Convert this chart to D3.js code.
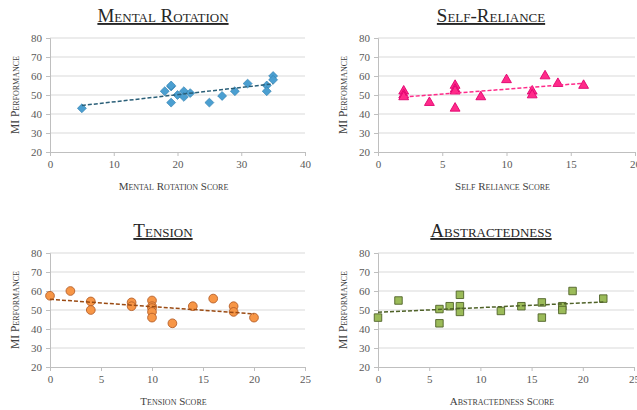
<!DOCTYPE html>
<html><head><meta charset="utf-8">
<script src="https://cdn.jsdelivr.net/npm/d3@7"></script>
<style>
html,body{margin:0;padding:0;background:#fff;}
svg text{font-family:"Liberation Serif","Times New Roman",serif !important;}
</style></head>
<body>
<svg id="chart" width="637" height="410"></svg>
<script>
// ---- data ----
const mentalX = [5,18,19,19,19,20,21,21,22,25,27,29,31,34,34,35,35];
const mentalY = [43,52,54.5,55,46,50,52,49,51,46,49.5,52,56,55,52,60,58];
const selfX = [2,2,2,4,6,6,6,6,8,10,12,12,13,14,16];
const selfY = [52,50,49,46,55,53,52,43,49,58,52,50,60,56,55];
const tensionX = [0,2,4,4,8,8,10,10,10,10,10,12,14,16,18,18,20];
const tensionY = [57.5,60,54.5,50,54,52,55,52,51,49,46,43,52,56,52,49,46];
const abstrX = [0,2,6,6,7,8,8,8,12,14,16,16,18,18,19,22];
const abstrY = [46,55,50.5,43,52,58,52,49,49.5,52,54,46,52,50,60,56];
const yTicks = [20,30,40,50,60,70,80];
const titles = ["Mental Rotation","Self-Reliance","Tension","Abstractedness"];
const xTitles = ["Mental Rotation Score","Self Reliance Score","Tension Score","Abstractedness Score"];
const yTitle = "MI Performance";

const panels = [
  {x:mentalX,y:mentalY,xmax:40,step:10,title:titles[0],xt:xTitles[0],left:50,top:38,w:255,shape:"diamond",fill:"#4b9fd1",stroke:"#2f7fae",trend:"#2a5f78"},
  {x:selfX,y:selfY,xmax:20,step:5,title:titles[1],xt:xTitles[1],left:378,top:38,w:257,shape:"triangle",fill:"#ff2b8a",stroke:"#e0006e",trend:"#ff2b8a"},
  {x:tensionX,y:tensionY,xmax:25,step:5,title:titles[2],xt:xTitles[2],left:50,top:253,w:255,shape:"circle",fill:"#f79646",stroke:"#b5602a",trend:"#9a4a12"},
  {x:abstrX,y:abstrY,xmax:25,step:5,title:titles[3],xt:xTitles[3],left:378,top:253,w:256,shape:"square",fill:"#9bbb59",stroke:"#4f6228",trend:"#4f6228"}
];

const svg = d3.select("#chart");
const H = 114;
const FF = "'Liberation Serif', 'Times New Roman', serif";

panels.forEach((p,i)=>{
  const g = svg.append("g").attr("transform",`translate(${p.left},${p.top})`);
  const xs = d3.scaleLinear().domain([0,p.xmax]).range([0,p.w]);
  const ys = d3.scaleLinear().domain([20,80]).range([H,0]);

  // gridlines
  g.selectAll(".grid").data(yTicks.filter(t=>t>20)).join("line")
    .attr("x1",0).attr("x2",p.w).attr("y1",d=>ys(d)).attr("y2",d=>ys(d))
    .attr("stroke","#d9d9d9").attr("stroke-width",1);

  // y axis
  const ya = g.append("g").call(d3.axisLeft(ys).tickValues(yTicks).tickSize(4).tickPadding(4))
    .attr("font-family",FF).attr("font-size",11);
  ya.select(".domain").attr("stroke","#bfbfbf");
  ya.selectAll(".tick line").attr("stroke","#bfbfbf");
  ya.selectAll(".tick text").attr("fill","#595959");

  // x axis
  const xticks = d3.range(0,p.xmax+0.001,p.step);
  const xa = g.append("g").attr("transform",`translate(0,${H})`)
    .call(d3.axisBottom(xs).tickValues(xticks).tickSize(4).tickPadding(4).tickSizeOuter(0))
    .attr("font-family",FF).attr("font-size",11);
  xa.select(".domain").attr("stroke","#bfbfbf");
  xa.selectAll(".tick line").attr("stroke","#bfbfbf");
  xa.selectAll(".tick text").attr("fill","#595959");

  // trendline (least squares)
  const n = p.x.length;
  const mx = d3.mean(p.x), my = d3.mean(p.y);
  let sxy=0,sxx=0;
  for(let k=0;k<n;k++){sxy+=(p.x[k]-mx)*(p.y[k]-my);sxx+=(p.x[k]-mx)**2;}
  const b = sxy/sxx, a = my-b*mx;
  const x0 = d3.min(p.x), x1 = d3.max(p.x);

  // markers
  const data = p.x.map((v,k)=>({x:v,y:p.y[k]}));
  const symType = {diamond:d3.symbolSquare,triangle:d3.symbolTriangle,circle:d3.symbolCircle,square:d3.symbolSquare}[p.shape];
  const size = {diamond:40,triangle:42,circle:60,square:56}[p.shape];
  const sym = d3.symbol().type(symType).size(size);
  g.selectAll(".pt").data(data).join("path")
    .attr("d",sym)
    .attr("transform",d=>`translate(${xs(d.x)},${ys(d.y)})`+(p.shape==="diamond"?" rotate(45)":""))
    .attr("fill",p.fill).attr("stroke",p.stroke).attr("stroke-width",p.shape==="diamond"?0.6:0.9);

  g.append("line")
    .attr("x1",xs(x0)).attr("y1",ys(a+b*x0)).attr("x2",xs(x1)).attr("y2",ys(a+b*x1))
    .attr("stroke",p.trend).attr("stroke-width",1.5).attr("stroke-dasharray","4,2");

  // title
  g.append("text").attr("x",113).attr("y",-16)
    .attr("text-anchor","middle").style("font-variant","small-caps")
    .style("font-size","19px").attr("fill","#262626")
    .attr("text-decoration","underline").text(p.title);

  // x axis title
  g.append("text").attr("x",p.w/2-4).attr("y",H+38)
    .attr("text-anchor","middle").style("font-variant","small-caps")
    .style("font-size","11px").attr("fill","#404040").text(p.xt);

  // y axis title
  g.append("text").attr("transform",`translate(-31,${H/2}) rotate(-90)`)
    .attr("text-anchor","middle").style("font-variant","small-caps")
    .style("font-size","11.5px").attr("fill","#404040").text(yTitle);
});
</script>
</body></html>
